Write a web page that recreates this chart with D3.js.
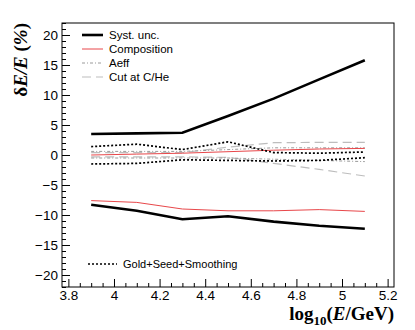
<!DOCTYPE html>
<html>
<head>
<meta charset="utf-8">
<script src="https://cdn.jsdelivr.net/npm/d3@7"></script>
<style>
  body { margin: 0; background: #fff; }
  svg { display: block; }
  .tick text { font-family: "Liberation Sans", Arial, sans-serif; font-size: 13.5px; fill: #000; }
</style>
</head>
<body>
<svg id="chart" width="415" height="330"></svg>
<script>
// energy bins, log10(E/GeV)
var logE = [3.9, 4.1, 4.3, 4.5, 4.7, 4.9, 5.1];
// relative uncertainties (%)
var systUp = [3.5, 3.6, 3.7, 6.5, 9.4, 12.6, 15.8];
var systLo = [-8.3, -9.3, -10.7, -10.2, -11.1, -11.8, -12.3];
var compUp = [0.0, 0.15, 0.3, 0.55, 0.8, 1.0, 1.1];
var compLo = [-7.6, -7.9, -9.0, -9.3, -9.3, -9.1, -9.4];
var aeffUp = [0.6, 0.6, 0.6, 0.9, 1.2, 1.2, 1.2];
var aeffLo = [-0.5, -0.5, -0.5, -0.5, -0.7, -0.9, -1.1];
var cutUp = [0.4, 0.4, 0.4, 1.3, 2.05, 2.1, 2.1];
var cutLo = [-0.3, -0.3, -0.3, -0.4, -1.4, -2.4, -3.5];
var goldUp = [1.4, 1.8, 0.9, 2.2, 0.4, 0.3, 0.5];
var goldLo = [-1.5, -1.4, -0.8, -0.9, -1.0, -0.9, -0.45];

var xTicks = [3.8, 4.0, 4.2, 4.4, 4.6, 4.8, 5.0, 5.2];
var yTicks = [-20, -15, -10, -5, 0, 5, 10, 15, 20];

var legendTop = [
  {name: "Syst. unc.", key: "syst"},
  {name: "Composition", key: "comp"},
  {name: "Aeff", key: "aeff"},
  {name: "Cut at C/He", key: "cut"}
];
var legendBottom = [{name: "Gold+Seed+Smoothing", key: "gold"}];

var styles = {
  syst: {stroke: "#000", width: 2.6, dash: null},
  comp: {stroke: "#e8474a", width: 1, dash: null},
  aeff: {stroke: "#9a9a9a", width: 1, dash: "3,2,1,2"},
  cut: {stroke: "#bdbdbd", width: 1.2, dash: "9,5"},
  gold: {stroke: "#000", width: 1.7, dash: "2,2"}
};

var series = [
  {key: "cut", values: cutUp}, {key: "cut", values: cutLo},
  {key: "aeff", values: aeffUp}, {key: "aeff", values: aeffLo},
  {key: "comp", values: compUp}, {key: "comp", values: compLo},
  {key: "gold", values: goldUp}, {key: "gold", values: goldLo},
  {key: "syst", values: systUp}, {key: "syst", values: systLo}
];

var svg = d3.select("#chart");
var padL = 62, padR = 394, padT = 23, padB = 287;

var x = d3.scaleLinear().domain([3.772, 5.228]).range([padL, padR]);
var y = d3.scaleLinear().domain([-22, 22]).range([padB, padT]);

var line = d3.line()
  .x(function (d, i) { return x(logE[i]); })
  .y(function (d) { return y(d); });

var g = svg.append("g");

g.selectAll("path.series").data(series).enter().append("path")
  .attr("class", "series")
  .attr("d", function (s) { return line(s.values); })
  .attr("fill", "none")
  .attr("stroke", function (s) { return styles[s.key].stroke; })
  .attr("stroke-width", function (s) { return styles[s.key].width; })
  .attr("stroke-dasharray", function (s) { return styles[s.key].dash; });

// minor ticks
var yMinor = d3.range(-22, 22.01, 1).filter(function (v) { return v % 5 !== 0; });
var xMinor = d3.range(3.8, 5.23, 0.05).filter(function (v) {
  return Math.abs(Math.round(v * 5) - v * 5) > 0.01;
});
svg.append("g").attr("transform", "translate(" + padL + ",0)")
  .call(d3.axisLeft(y).tickValues(yMinor).tickSize(-4).tickFormat(""))
  .call(function (a) { a.select(".domain").remove(); });
svg.append("g").attr("transform", "translate(0," + padB + ")")
  .call(d3.axisBottom(x).tickValues(xMinor).tickSize(-4).tickFormat(""))
  .call(function (a) { a.select(".domain").remove(); });

// major ticks
var yAxis = svg.append("g").attr("transform", "translate(" + padL + ",0)")
  .call(d3.axisLeft(y).tickValues(yTicks).tickSizeInner(-8).tickSizeOuter(0)
    .tickFormat(function (d) { return d < 0 ? "\u2212" + Math.abs(d) : d; }));
yAxis.select(".domain").remove();
yAxis.selectAll(".tick text").attr("x", -4);

var xAxis = svg.append("g").attr("transform", "translate(0," + padB + ")")
  .call(d3.axisBottom(x).tickValues(xTicks).tickSizeInner(-8).tickSizeOuter(0)
    .tickFormat(d3.format("~g")));
xAxis.select(".domain").remove();
xAxis.selectAll(".tick text").attr("y", 3);

svg.selectAll(".tick line").attr("stroke", "#000");

// frame
svg.append("rect")
  .attr("x", padL).attr("y", padT)
  .attr("width", padR - padL).attr("height", padB - padT)
  .attr("fill", "none").attr("stroke", "#000").attr("stroke-width", 1);

// legends
function drawLegend(items, x0, y0, dy, fs) {
  var lg = svg.append("g").attr("transform", "translate(" + x0 + "," + y0 + ")");
  var row = lg.selectAll("g").data(items).enter().append("g")
    .attr("transform", function (d, i) { return "translate(0," + (i * dy) + ")"; });
  row.append("line")
    .attr("x1", 0).attr("x2", function (d) { return d.key === "gold" ? 29 : 21; })
    .attr("y1", 0).attr("y2", 0)
    .attr("stroke", function (d) { return styles[d.key].stroke; })
    .attr("stroke-width", function (d) { return styles[d.key].width; })
    .attr("stroke-dasharray", function (d) { return styles[d.key].dash; });
  row.append("text")
    .attr("x", function (d) { return d.key === "gold" ? 35 : 27; })
    .attr("y", 4)
    .attr("font-family", "Liberation Sans, Arial, sans-serif")
    .attr("font-size", fs)
    .text(function (d) { return d.name; });
}
drawLegend(legendTop, 82, 35, 14, 11.5);
drawLegend(legendBottom, 88, 264, 14, 11);

// axis titles
var xt = svg.append("text")
  .attr("x", padR).attr("y", 320)
  .attr("text-anchor", "end")
  .attr("font-family", "Liberation Serif, Times New Roman, serif")
  .attr("font-weight", "bold")
  .attr("font-size", 19);
xt.append("tspan").text("log");
xt.append("tspan").attr("font-size", 13).attr("dy", 5).text("10");
xt.append("tspan").attr("dy", -5).text("(");
xt.append("tspan").attr("font-style", "italic").text("E");
xt.append("tspan").text("/GeV)");

var yt = svg.append("text")
  .attr("transform", "translate(27," + padT + ") rotate(-90)")
  .attr("text-anchor", "end")
  .attr("font-family", "Liberation Serif, Times New Roman, serif")
  .attr("font-weight", "bold")
  .attr("font-size", 19);
yt.append("tspan").text("\u03b4");
yt.append("tspan").attr("font-style", "italic").text("E/E");
yt.append("tspan").text(" (");
yt.append("tspan").attr("font-style", "italic").text("%");
yt.append("tspan").text(")");
</script>
</body>
</html>
